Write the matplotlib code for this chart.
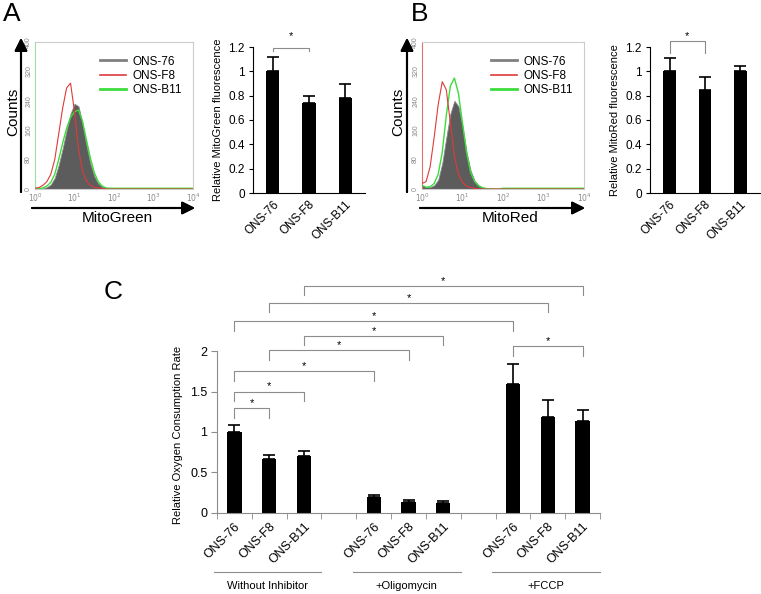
# Mitochondrial mass / membrane potential and oxygen consumption figure (panels A, B, C)

import numpy as np
import matplotlib.pyplot as plt
from matplotlib.lines import Line2D
import matplotlib.transforms as mtransforms

plt.rcParams['font.family'] = ['Liberation Sans', 'DejaVu Sans']

# ---------------- data ----------------
cells = ['ONS-76', 'ONS-F8', 'ONS-B11']

# flow cytometry histograms, x in log10(fluorescence), y in counts
log_fl = [0.0, 0.1, 0.2, 0.3, 0.4, 0.5, 0.6, 0.7, 0.8, 0.9, 1.0,
          1.1, 1.2, 1.3, 1.4, 1.5, 1.6, 1.7, 1.8, 1.9, 2.0, 4.0]

green_76 = [0, 0, 2, 5, 12, 30, 65, 110, 160, 205, 232,
            225, 180, 120, 70, 35, 15, 6, 2, 1, 0, 0]
green_f8 = [2, 4, 10, 20, 40, 80, 150, 220, 275, 288, 210,
            110, 50, 22, 10, 5, 3, 1, 0, 0, 0, 0]
green_b11 = [0, 1, 3, 8, 18, 40, 80, 125, 165, 195, 210,
             215, 185, 135, 85, 45, 20, 8, 3, 2, 2, 2]

red_76 = [10, 5, 5, 10, 25, 70, 140, 205, 240, 225, 170,
          100, 50, 22, 10, 4, 2, 1, 0, 0, 0, 0]
red_f8 = [15, 20, 60, 140, 230, 292, 270, 180, 90, 40, 18,
          8, 4, 2, 0, 0, 0, 0, 0, 0, 0, 0]
red_b11 = [10, 5, 6, 15, 40, 100, 200, 280, 302, 260, 180,
           100, 45, 20, 8, 3, 1, 0, 0, 0, 2, 2]

# relative fluorescence (bar charts)
mitogreen = [1.0, 0.74, 0.78]
mitogreen_err = [0.12, 0.06, 0.12]
mitored = [1.0, 0.85, 1.0]
mitored_err = [0.11, 0.10, 0.04]

# oxygen consumption
groups = ['Without Inhibitor', '+Oligomycin', '+FCCP']
ocr = [1.0, 0.66, 0.70, 0.19, 0.135, 0.12, 1.59, 1.19, 1.135]
ocr_err = [0.09, 0.05, 0.06, 0.03, 0.025, 0.025, 0.25, 0.20, 0.135]
ocr_pos = [0, 1, 2, 4, 5, 6, 8, 9, 10]
# (x1, x2, height) of significance brackets
ocr_sig = [(2, 10, 2.81), (1, 9, 2.60), (0, 8, 2.37), (2, 6, 2.19),
           (1, 5, 2.01), (8, 10, 2.06), (0, 4, 1.75), (0, 2, 1.50), (0, 1, 1.29)]

# ---------------- layout helpers ----------------
W, H = 761, 594
fig = plt.figure(figsize=(W / 100, H / 100), dpi=100)


def px_axes(l, t, r, b):
    return fig.add_axes([l / W, 1 - b / H, (r - l) / W, (b - t) / H])


def fpx(x, y):
    return (x / W, 1 - y / H)


def arrow(x0, y0, x1, y1):
    fig.add_artist(plt.annotate('', xy=fpx(x1, y1), xytext=fpx(x0, y0),
                                xycoords='figure fraction', textcoords='figure fraction',
                                arrowprops=dict(arrowstyle='-|>', lw=1.5, color='k',
                                                mutation_scale=19, shrinkA=0, shrinkB=0)))


def bracket(ax, x1, x2, y, h, off=1.5, color='#8c8c8c'):
    ax.plot([x1, x1, x2, x2], [y - h, y, y, y - h], color=color, lw=0.8, clip_on=False)
    ax.annotate('*', ((x1 + x2) / 2, y), xytext=(0, off), textcoords='offset points',
                ha='center', va='baseline', fontsize=8, annotation_clip=False)


def histogram(ax, s76, sf8, sb11, left_col):
    ax.fill_between(log_fl, s76, color='#5c5c5c', lw=0.6, edgecolor='#8a8a8a', zorder=2)
    ax.plot(log_fl, sb11, color='#3ddc3d', lw=1.0, zorder=3)
    ax.plot(log_fl, sf8, color='#e03a3a', lw=0.8, zorder=4)
    ax.set_xlim(0, 4)
    ax.set_ylim(0, 400)
    ax.set_xticks([0, 1, 2, 3, 4])
    ax.set_xticklabels(['$10^{%d}$' % k for k in range(5)], fontsize=5.5, color='#888888')
    ax.set_yticks([0, 80, 160, 240, 320, 400])
    ax.set_yticklabels(['0', '80', '160', '240', '320', '400'], fontsize=5,
                       color='#888888', rotation=90, va='center')
    ax.tick_params(length=0, pad=2)
    for s in ax.spines.values():
        s.set_color('#cccccc')
        s.set_linewidth(0.8)
    ax.spines['left'].set_color(left_col)
    handles = [Line2D([], [], color='#808080', lw=2),
               Line2D([], [], color='#e03a3a', lw=1.2),
               Line2D([], [], color='#3ddc3d', lw=2)]
    ax.legend(handles, cells, loc='upper right', frameon=False, fontsize=8.5,
              handlelength=2.2, handletextpad=0.6, labelspacing=0.2,
              bbox_to_anchor=(1.0, 0.98))


def small_bars(ax, vals, errs, ylabel, br_y, br_h, star_off):
    x = np.arange(len(vals))
    ax.bar(x, vals, width=0.36, color='k',
           yerr=[np.zeros(len(errs)), errs], capsize=4.5,
           error_kw=dict(elinewidth=1.2, capthick=1.2, ecolor='k'))
    ax.set_xlim(-0.55, 2.55)
    ax.set_ylim(0, 1.2)
    ax.set_yticks([0, 0.2, 0.4, 0.6, 0.8, 1.0, 1.2])
    ax.set_yticklabels(['0', '0.2', '0.4', '0.6', '0.8', '1', '1.2'], fontsize=8.5)
    ax.set_xticks(x)
    ax.set_xticklabels(cells, rotation=45, ha='right', rotation_mode='anchor', fontsize=8.5)
    ax.tick_params(axis='x', length=0, pad=4)
    ax.tick_params(axis='y', length=3, direction='out', pad=3)
    ax.spines['top'].set_visible(False)
    ax.spines['right'].set_visible(False)
    ax.set_ylabel(ylabel, fontsize=8, labelpad=4)
    bracket(ax, 0, 1, br_y, br_h, off=star_off)


# ---------------- panel A ----------------
axA = px_axes(35, 42, 193, 189)
histogram(axA, green_76, green_f8, green_b11, '#9be39b')
arrow(21, 192, 21, 38)
arrow(32, 208, 195, 208)
fig.text(*fpx(13, 112), 'Counts', rotation=90, ha='center', va='center', fontsize=11)
fig.text(*fpx(117, 218), 'MitoGreen', ha='center', va='center', fontsize=11)
fig.text(*fpx(12, 14), 'A', ha='center', va='center', fontsize=19)

axA2 = px_axes(253, 47, 365, 193)
small_bars(axA2, mitogreen, mitogreen_err, 'Relative MitoGreen fluorescence', 1.195, 0.03, 6)

# ---------------- panel B ----------------
axB = px_axes(422, 42, 584, 189)
histogram(axB, red_76, red_f8, red_b11, '#e07070')
arrow(407, 192, 407, 38)
arrow(420, 208, 585, 208)
fig.text(*fpx(398, 112), 'Counts', rotation=90, ha='center', va='center', fontsize=11)
fig.text(*fpx(510, 218), 'MitoRed', ha='center', va='center', fontsize=11)
fig.text(*fpx(420, 14), 'B', ha='center', va='center', fontsize=19)

axB2 = px_axes(650, 47, 760, 193)
small_bars(axB2, mitored, mitored_err, 'Relative MitoRed fluorescence', 1.25, 0.10, 1.5)

# ---------------- panel C ----------------
axC = px_axes(217, 262.5, 600, 512.5)
axC.bar(ocr_pos, ocr, width=0.41, color='k',
        yerr=[np.zeros(len(ocr_err)), ocr_err], capsize=4.5,
        error_kw=dict(elinewidth=1.2, capthick=1.2, ecolor='k'))
axC.set_xlim(-0.5, 10.5)
axC.set_ylim(0, 3.1)
axC.set_yticks([0, 0.5, 1, 1.5, 2])
axC.set_yticklabels(['0', '0.5', '1', '1.5', '2'], fontsize=9)
axC.set_xticks(ocr_pos)
axC.set_xticklabels(cells * 3, rotation=45, ha='right', rotation_mode='anchor', fontsize=9)
axC.set_xticks(np.arange(-0.5, 11, 1.0), minor=True)
axC.tick_params(axis='x', which='major', length=0, pad=6)
axC.tick_params(axis='x', which='minor', length=4, direction='out', color='#8c8c8c')
axC.tick_params(axis='y', length=4, direction='out', color='#8c8c8c', pad=3)
axC.spines['top'].set_visible(False)
axC.spines['right'].set_visible(False)
axC.spines['left'].set_bounds(0, 2)
axC.spines['left'].set_color('#8c8c8c')
axC.spines['bottom'].set_color('#8c8c8c')
axC.set_ylabel('Relative Oxygen Consumption Rate', fontsize=8, labelpad=5, y=0.31)

for x1, x2, y in ocr_sig:
    bracket(axC, x1, x2, y, 0.115, off=1.5)

# group labels under the category labels
trans = mtransforms.blended_transform_factory(axC.transData, fig.transFigure)
for gi, name in enumerate(groups):
    c = 1 + 4 * gi
    axC.plot([c - 1.6, c + 1.5], [1 - 571.5 / H] * 2, color='#8c8c8c', lw=0.8,
             transform=trans, clip_on=False)
    axC.text(c - 0.05, 1 - 586 / H, name, transform=trans, ha='center', va='center', fontsize=8)

fig.text(*fpx(113, 292), 'C', ha='center', va='center', fontsize=19)

plt.savefig('out.png', dpi=100)
